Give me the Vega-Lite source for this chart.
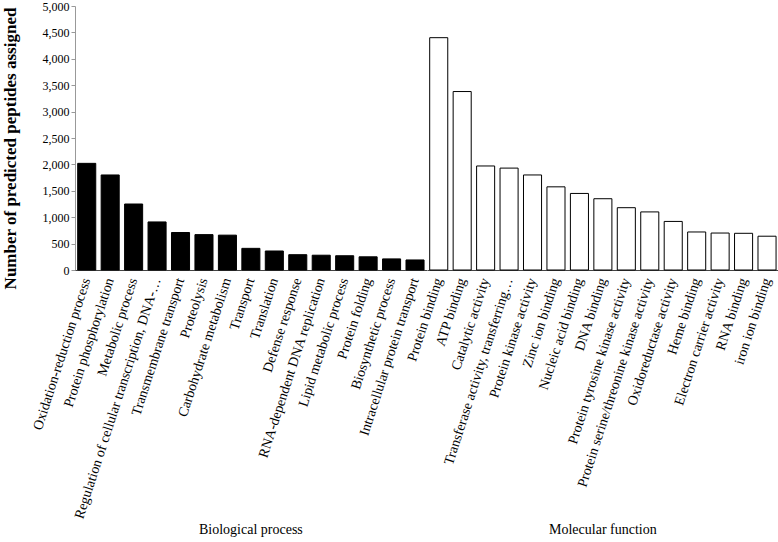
{
  "$schema": "https://vega.github.io/schema/vega-lite/v6.json",
  "padding": {"left": 0, "top": 0, "right": 0, "bottom": 0},
  "background": "white",
  "bounds": "flush",
  "data": {"values": [
    {"group": "Biological process", "term": "Oxidation-reduction process", "count": 2020},
    {"group": "Biological process", "term": "Protein phosphorylation", "count": 1800},
    {"group": "Biological process", "term": "Metabolic process", "count": 1250},
    {"group": "Biological process", "term": "Regulation of cellular transcription, DNA-…", "count": 910},
    {"group": "Biological process", "term": "Transmembrane transport", "count": 710},
    {"group": "Biological process", "term": "Proteolysis", "count": 670},
    {"group": "Biological process", "term": "Carbohydrate metabolism", "count": 660},
    {"group": "Biological process", "term": "Transport", "count": 410},
    {"group": "Biological process", "term": "Translation", "count": 360},
    {"group": "Biological process", "term": "Defense response", "count": 290},
    {"group": "Biological process", "term": "RNA-dependent DNA replication", "count": 280},
    {"group": "Biological process", "term": "Lipid metabolic process", "count": 270},
    {"group": "Biological process", "term": "Protein folding", "count": 250},
    {"group": "Biological process", "term": "Biosynthetic process", "count": 210},
    {"group": "Biological process", "term": "Intracellular protein transport", "count": 190},
    {"group": "Molecular function", "term": "Protein binding", "count": 4400},
    {"group": "Molecular function", "term": "ATP binding", "count": 3380},
    {"group": "Molecular function", "term": "Catalytic activity", "count": 1970},
    {"group": "Molecular function", "term": "Transferase activity, transferring…", "count": 1930},
    {"group": "Molecular function", "term": "Protein kinase activity", "count": 1800},
    {"group": "Molecular function", "term": "Zinc ion binding", "count": 1575},
    {"group": "Molecular function", "term": "Nucleic acid binding", "count": 1450},
    {"group": "Molecular function", "term": "DNA binding", "count": 1350},
    {"group": "Molecular function", "term": "Protein tyrosine kinase activity", "count": 1180},
    {"group": "Molecular function", "term": "Protein serine/threonine kinase activity", "count": 1100},
    {"group": "Molecular function", "term": "Oxidoreductase activity", "count": 920},
    {"group": "Molecular function", "term": "Heme binding", "count": 720},
    {"group": "Molecular function", "term": "Electron carrier activity", "count": 700},
    {"group": "Molecular function", "term": "RNA binding", "count": 695},
    {"group": "Molecular function", "term": "iron ion binding", "count": 640}
  ]},
  "facet": {
    "column": {
      "field": "group", "type": "nominal",
      "sort": ["Biological process", "Molecular function"],
      "title": null,
      "header": {"labelOrient": "bottom", "labelFont": "Liberation Serif", "labelFontSize": 14, "labelColor": "black", "labelPadding": 253}
    }
  },
  "spacing": 0,
  "resolve": {"scale": {"x": "independent"}},
  "spec": {
    "width": {"step": 23.45},
    "height": 264,
    "mark": {"type": "bar", "stroke": "black", "strokeWidth": 1},
    "encoding": {
      "x": {
        "field": "term", "type": "nominal", "sort": null,
        "scale": {"paddingInner": 0.23, "paddingOuter": 0.115},
        "axis": {"title": null, "labelAngle": -72, "labelFont": "Liberation Serif", "labelFontSize": 14, "labelColor": "black", "labelLimit": 400, "ticks": false, "labelPadding": 8, "domainColor": "#444"}
      },
      "y": {
        "field": "count", "type": "quantitative",
        "scale": {"domain": [0, 5000]},
        "axis": {
          "title": "Number of predicted peptides assigned",
          "titleFont": "Liberation Serif", "titleFontSize": 17, "titleFontWeight": "bold", "titleColor": "black", "titlePadding": 23, "titleY": 142,
          "values": [0, 500, 1000, 1500, 2000, 2500, 3000, 3500, 4000, 4500, 5000],
          "format": ",d",
          "labelFont": "Liberation Serif", "labelFontSize": 12, "labelColor": "black",
          "grid": false, "domainColor": "#999", "tickColor": "#999", "tickSize": 4
        }
      },
      "fill": {
        "field": "group", "type": "nominal",
        "scale": {"domain": ["Biological process", "Molecular function"], "range": ["black", "white"]},
        "legend": null
      }
    }
  },
  "config": {"view": {"stroke": null}, "font": "Liberation Serif"}
}
